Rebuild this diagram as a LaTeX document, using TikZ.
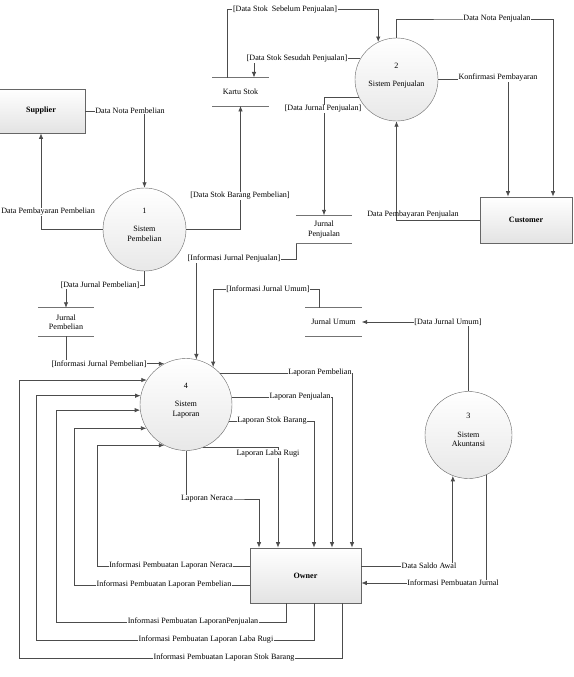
\documentclass[tikz,border=0pt]{standalone}
\usepackage{fontspec}
\setmainfont{Liberation Serif}
\usetikzlibrary{arrows.meta,shadows}

\begin{document}
\begin{tikzpicture}[
    x=1pt, y=-1pt,
    font=\fontsize{8.1}{9.5}\selectfont,
    process/.style={circle, draw=black!60, top color=white, bottom color=gray!18, minimum size=83, inner sep=0, align=center},
    entity/.style={rectangle, draw=black!60, line width=0.7pt, top color=white, bottom color=gray!22, drop shadow={shadow xshift=1.2pt, shadow yshift=-1.2pt, opacity=0.35}, font=\fontsize{8.1}{9.5}\selectfont\bfseries},
    store/.style={minimum width=56, minimum height=28, inner sep=0, align=center},
    storeline/.style={draw=black!55, line width=0.8pt},
    flow/.style={draw=black!70, line width=0.8pt, -{Latex[length=5.5pt, width=4.5pt]}},
    lbl/.style={fill=white, inner sep=0.6pt}
]
\useasboundingbox (0,0) rectangle (573,677);

% Define node positions
\node[entity, minimum width=88, minimum height=44] (Sup) at (41,111) {Supplier};
\node[entity, minimum width=92, minimum height=46] (Cust) at (526,220) {Customer};
\node[entity, minimum width=111, minimum height=55] (Own) at (305.5,575.5) {Owner};

\node[process] (P1) at (144.5,229.5) {1\\[9pt]Sistem\\Pembelian\\{}};
\node[process] (P2) at (396.5,79.5) {2\\[9pt]Sistem Penjualan\\{}};
\node[process, minimum size=87] (P3) at (468.5,435) {3\\[9pt]Sistem\\Akuntansi\\{}};
\node[process, minimum size=92] (P4) at (186,404.5) {4\\[9pt]Sistem\\Laporan\\{}};

\node[store] (KS) at (240.5,91.7) {Kartu Stok};
\node[store] (JP) at (324,229.5) {Jurnal\\Penjualan};
\node[store] (JPb) at (66,322) {Jurnal\\Pembelian};
\node[store] (JU) at (333.5,322) {Jurnal Umum};

\foreach \s in {KS,JP,JPb,JU} {
  \draw[storeline] (\s.north west) -- (\s.north east) (\s.south west) -- (\s.south east);
}

% Supplier and Sistem Pembelian
\draw[flow] (Sup.east) -| (P1.north);
\draw[flow] (P1.west) -| (Sup.south);
\draw[flow] (P1.east) -| (KS.south);
\draw[flow] (P1.south) |- (100,285) -| (JPb.north);
\draw[flow] (JPb.south) |- (P4.118);

% Sistem Penjualan and Customer
\draw[flow] ([xshift=-13.5]KS.north) |- (300,9.5) -| (P2.116);
\draw[flow] (P2.150) -| ([xshift=13.5]KS.north);
\draw[flow] (P2.205) -| (JP.north);
\draw[flow] (P2.north) |- (470,19) -| ([xshift=27]Cust.north);
\draw[flow] (P2.east) -| ([xshift=-18]Cust.north);
\draw[flow] (Cust.west) -| (P2.south);
\draw[flow] ([xshift=-28]JP.south) |- (250,259) -| (P4.77);

% Jurnal Umum and Sistem Akuntansi
\draw[flow] ([xshift=-14.5]JU.north) |- (260,289) -| (P4.54);
\draw[flow] (P3.north) |- (JU.east);
\draw[flow] ([yshift=9.5]Own.east) -| (P3.249);
\draw[flow] (P3.294) |- ([yshift=-7.5]Own.east);

% Sistem Laporan to Owner
\draw[flow] (P4.43) -| ([xshift=46.5]Own.north);
\draw[flow] (P4.9) -| ([xshift=26.5]Own.north);
\draw[flow] (P4.339) -| ([xshift=8.5]Own.north);
\draw[flow] (P4.292) -| ([xshift=-27.5]Own.north);
\draw[flow] (P4.south) |- (230,499) -| ([xshift=-46.5]Own.north);

% Owner back to Sistem Laporan
\draw[flow] ([xshift=36.5]Own.south) |- (19,658) |- (P4.148);
\draw[flow] ([xshift=8.5]Own.south) |- (36,640) |- (P4.169);
\draw[flow] ([xshift=-19.5]Own.south) |- (56,622) |- (P4.187);
\draw[flow] ([yshift=-9.5]Own.west) -- (74,585) |- (P4.211);
\draw[flow] ([yshift=9.5]Own.west) -- (97,566) |- (P4.242);

% Labels on the flows
\node[lbl] (l1) at (130,111) {Data Nota Pembelian};
\node[lbl, anchor=west] (l2) at (0.5,212) {Data Pembayaran Pembelian};
\node[lbl] (l3) at (240,196) {[Data Stok Barang Pembelian]};
\node[lbl] (l4) at (100,285) {[Data Jurnal Pembelian]};
\node[lbl] (l5) at (99,364) {[Informasi Jurnal Pembelian]};
\node[lbl] (l6) at (285,9.5) {[Data Stok~ Sebelum Penjualan]};
\node[lbl] (l7) at (297,59) {[Data Stok Sesudah Penjualan]};
\node[lbl] (l8) at (323,109) {[Data Jurnal Penjualan]};
\node[lbl] (l9) at (497,19) {Data Nota Penjualan};
\node[lbl] (l10) at (498,78) {Konfirmasi Pembayaran};
\node[inner sep=0.6pt] (l11) at (413,215) {Data Pembayaran Penjualan};
\node[lbl] (l12) at (234,259) {[Informasi Jurnal Penjualan]};
\node[lbl] (l13) at (268,289) {[Informasi Jurnal Umum]};
\node[lbl] (l14) at (448,322) {[Data Jurnal Umum]};
\node[lbl] (l15) at (429,566) {Data Saldo Awal};
\node[lbl] (l16) at (453,583) {Informasi Pembuatan Jurnal};
\node[lbl] (l17) at (320,373) {Laporan Pembelian};
\node[lbl] (l18) at (300,397) {Laporan Penjualan};
\node[lbl] (l19) at (272,421) {Laporan Stok Barang};
\node[lbl] (l20) at (268,454) {Laporan Laba Rugi};
\node[lbl] (l21) at (207,499) {Laporan Neraca};
\node[lbl] (l22) at (224,658) {Informasi Pembuatan Laporan Stok Barang};
\node[lbl] (l23) at (206,640) {Informasi Pembuatan Laporan Laba Rugi};
\node[lbl] (l24) at (193,622) {Informasi Pembuatan LaporanPenjualan};
\node[lbl] (l25) at (164,585) {Informasi Pembuatan Laporan Pembelian};
\node[lbl] (l26) at (171,566) {Informasi Pembuatan Laporan Neraca};

\end{tikzpicture}
\end{document}
